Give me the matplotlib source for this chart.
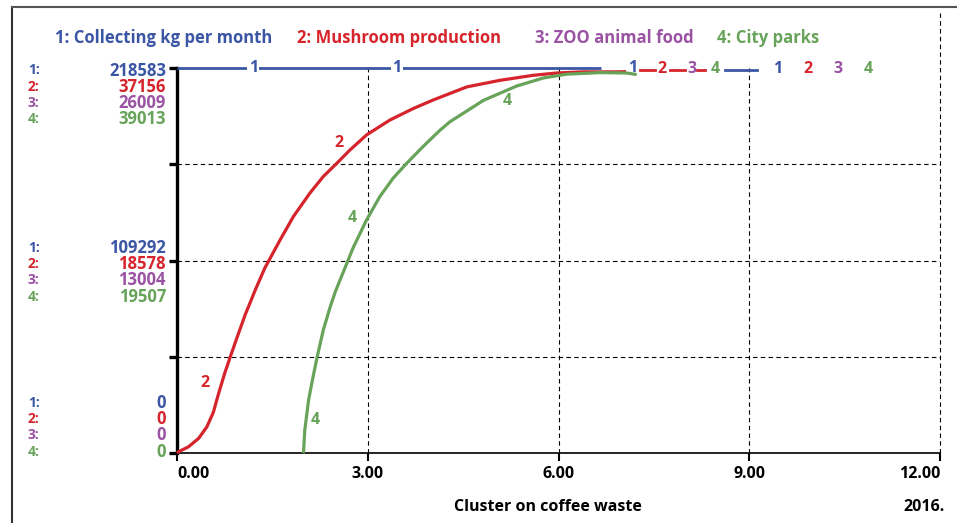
import numpy as np
import matplotlib
matplotlib.use("Agg")
import matplotlib.pyplot as plt
from matplotlib.lines import Line2D

plt.rcParams['font.family'] = ['Open Sans', 'DejaVu Sans']
plt.rcParams['font.weight'] = 'bold'

# --- dane ---
max_1 = 218583
max_2 = 37156
max_3 = 26009
max_4 = 39013

blue_x = [0.0, 6.67]
blue_y = [218583, 218583]

red_x = [0.0, 0.02, 0.18, 0.34, 0.47, 0.57, 0.65, 0.75, 0.83, 0.94, 1.07, 1.23, 1.38,
         1.62, 1.83, 2.09, 2.30, 2.51, 2.72, 2.98, 3.35, 3.72, 4.03, 4.56, 5.08,
         5.60, 5.97, 6.39, 6.92, 7.23]
red_y = [0, 111, 594, 1412, 2527, 3900, 5650, 7691, 9140, 11072, 13302, 15717, 17835,
         20547, 22814, 25080, 26678, 27941, 29242, 30691, 32140, 33255, 34072, 35335, 35967,
         36450, 36673, 36784, 36784, 36822]

green_x = [1.98, 1.99, 2.01, 2.07, 2.14, 2.20, 2.30, 2.41, 2.49, 2.64, 2.77, 2.98, 3.19,
           3.40, 3.61, 3.87, 4.14, 4.29, 4.82, 5.34, 5.76, 6.13, 6.65, 7.07, 7.23]
green_y = [0, 117, 2341, 5384, 7725, 9597, 12445, 14825, 16346, 18726, 20794, 23603, 25983,
           27855, 29338, 31054, 32732, 33551, 35736, 37179, 37999, 38389, 38545, 38506, 38350]

# etykiety na krzywych
blue_lab_x = [1.20, 3.46, 7.16]
red_lab_x = [0.44, 2.55]
red_lab_y = [6750, 29920]
green_lab_x = [2.17, 2.75, 5.19]
green_lab_y = [3350, 23800, 35670]

# ogon legendy przy gornej krawedzi (artefakt wykresu)
tail_red_dash = [(7.28, 7.52), (7.75, 7.99), (8.18, 8.30)]
tail_blue_dash = [(8.62, 9.12)]
tail_lab_x = [7.63, 8.10, 8.46, 9.45, 9.92, 10.40, 10.87]
tail_lab_txt = ['2', '3', '4', '1', '2', '3', '4']
tail_lab_col = ['red', 'purple', 'green', 'blue', 'red', 'purple', 'green']

series_names = ['1: Collecting kg per month', '2: Mushroom production',
                '3: ZOO animal food', '4: City parks']
scale_top = [max_1, max_2, max_3, max_4]
scale_mid = [109292, 18578, 13004, 19507]
scale_bot = [0, 0, 0, 0]

xticks = [0, 3, 6, 9, 12]
xtick_labels = ['0.00', '3.00', '6.00', '9.00', '12.00']

C = {'blue': '#3b56a5', 'red': '#d6242c', 'purple': '#9a52a3', 'green': '#68a35a'}
cols = [C['blue'], C['red'], C['purple'], C['green']]

W, H = 957, 523
fig = plt.figure(figsize=(W / 100, H / 100), dpi=100)
ax = fig.add_axes([177 / W, 1 - 453 / H, (940 - 177) / W, (453 - 68) / H])
ax_b = ax.twinx()
ax_g = ax.twinx()

ax.set_xlim(0, 12)
ax.set_ylim(0, max_2)
ax_b.set_ylim(0, max_1)
ax_g.set_ylim(0, max_4)
for a in (ax_b, ax_g):
    a.axis('off')

# siatka
yt = np.linspace(0, max_2, 5)
ax.set_yticks(yt)
ax.set_yticklabels([])
grid = dict(color='black', lw=0.8, ls=(0, (4, 3)), zorder=1)
for v in yt[1:4]:
    ax.axhline(v, **grid)
for v in xticks[1:4]:
    ax.axvline(v, **grid)
ax.plot([12, 12], [0, 1.143], transform=ax.get_xaxis_transform(), clip_on=False, **grid)

for s in ['top', 'right']:
    ax.spines[s].set_visible(False)
ax.spines['left'].set_linewidth(2.4)
ax.spines['bottom'].set_linewidth(1.2)
ax.tick_params(axis='y', direction='out', length=6, width=2.4)
ax.tick_params(axis='x', direction='out', length=6, width=1.5, pad=3)
ax.set_xticks(xticks)
ax.set_xticklabels(xtick_labels, fontsize=11.5, fontweight='bold')
tl = ax.get_xticklabels()
tl[0].set_horizontalalignment('left')
tl[-1].set_horizontalalignment('right')

# krzywe
line_kw = dict(clip_on=False, solid_joinstyle='round', solid_capstyle='butt')
ax_b.plot(blue_x, blue_y, color=C['blue'], lw=2.0, zorder=3, **line_kw)
ax.plot(red_x, red_y, color=C['red'], lw=2.3, zorder=4, **line_kw)
ax_g.plot(green_x, green_y, color=C['green'], lw=2.3, zorder=5, **line_kw)

lab = dict(fontsize=11.5, fontweight='bold', ha='center', va='center')
for x in blue_lab_x:
    ax_b.text(x, max_1, '1', color=C['blue'], zorder=6,
              bbox=dict(facecolor='white', edgecolor='none', pad=1.0), **lab)
for x, y in zip(red_lab_x, red_lab_y):
    ax.text(x, y, '2', color=C['red'], **lab)
for x, y in zip(green_lab_x, green_lab_y):
    ax_g.text(x, y, '4', color=C['green'], **lab)

for a, b in tail_red_dash:
    ax.plot([a, b], [max_2 * 0.995, max_2 * 0.995], color=C['red'], lw=2.0, clip_on=False)
for a, b in tail_blue_dash:
    ax.plot([a, b], [max_2 * 0.995, max_2 * 0.995], color=C['blue'], lw=2.0, clip_on=False)
for x, t, c in zip(tail_lab_x, tail_lab_txt, tail_lab_col):
    ax.text(x, max_2 * 0.997, t, color=C[c], **lab)


def ftext(px, py, s, **kw):
    fig.text(px / W, 1 - py / H, s, **kw)


# legenda u gory
leg_px = [55, 297, 535, 717]
for px, name, c in zip(leg_px, series_names, cols):
    ftext(px, 38, name, color=c, fontsize=12, fontweight='bold', ha='left', va='center')

# skale po lewej
for grp, y0 in zip([scale_top, scale_mid, scale_bot], [70.5, 248, 403]):
    for i, (v, c) in enumerate(zip(grp, cols)):
        y = y0 + i * 16.2
        ftext(28, y, f'{i + 1}:', color=c, fontsize=10, fontweight='bold', ha='left', va='center')
        ftext(166, y, str(v), color=c, fontsize=12, fontweight='bold', ha='right', va='center')

ftext(548, 507, 'Cluster on coffee waste', color='black', fontsize=11.5,
      fontweight='bold', ha='center', va='center')
ftext(945, 507, '2016.', color='black', fontsize=11.5, fontweight='bold',
      ha='right', va='center')

# ramka
fig.add_artist(Line2D([12 / W, 12 / W], [0, 1 - 7 / H], color='#333333', lw=1.5))
fig.add_artist(Line2D([12 / W, 1], [1 - 7 / H, 1 - 7 / H], color='#555555', lw=1.5))

fig.savefig('out.png', dpi=100)
